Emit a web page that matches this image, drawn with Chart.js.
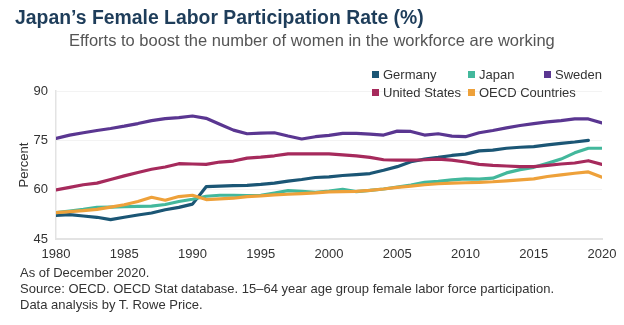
<!DOCTYPE html>
<html>
<head>
<meta charset="utf-8">
<script src="https://cdn.jsdelivr.net/npm/chart.js@4"></script>
<style>
  body { margin: 0; background: #fff; font-family: "Liberation Sans", Arial, sans-serif; }
  #wrap { position: relative; width: 624px; height: 325px; overflow: hidden; }
  #chart { position: absolute; left: 0; top: 0; }
  #title { position: absolute; left: 15px; top: 6px; font-size: 19.4px; font-weight: bold; color: #1e3d5a; white-space: nowrap; }
  #subtitle { position: absolute; left: 69px; top: 31px; font-size: 16.5px; color: #555; white-space: nowrap; }
  #legend { position: absolute; left: 372px; top: 66px; display: grid; grid-template-columns: 96px 76px auto; row-gap: 1px; font-size: 13px; color: #333; }
  #legend div { display: flex; align-items: center; height: 17px; white-space: nowrap; }
  #legend span { display: inline-block; flex-shrink: 0; width: 7px; height: 7px; margin-right: 4px; }
  #notes { position: absolute; left: 20px; top: 265px; font-size: 13px; color: #333; line-height: 16px; }
</style>
</head>
<body>
<div id="wrap">
  <canvas id="chart" width="624" height="325"></canvas>
  <div id="title">Japan’s Female Labor Participation Rate (%)</div>
  <div id="subtitle">Efforts to boost the number of women in the workforce are working</div>
  <div id="legend"></div>
  <div id="notes">As of December 2020.<br>Source: OECD. OECD Stat database. 15–64 year age group female labor force participation.<br>Data analysis by T. Rowe Price.</div>
</div>
<script>
const years = [];
for (let y = 1980; y <= 2020; y++) years.push(y);

const germany = [52.2, 52.4, 52.0, 51.6, 50.9, 51.6, 52.3, 52.9, 53.9, 54.6,
  55.6, 60.9, 61.1, 61.2, 61.3, 61.6, 62.0, 62.6, 63.1, 63.7,
  63.9, 64.3, 64.6, 64.9, 65.9, 67.0, 68.5, 69.3, 69.8, 70.4,
  70.8, 71.8, 72.0, 72.6, 72.9, 73.1, 73.6, 74.1, 74.5, 75.0, null];
const japan = [53.0, 53.5, 54.0, 54.6, 54.7, 54.8, 54.9, 55.0, 55.5, 56.4,
  57.1, 58.0, 58.3, 58.3, 58.2, 58.3, 59.0, 59.7, 59.5, 59.2,
  59.6, 60.1, 59.4, 59.8, 60.2, 60.8, 61.4, 62.2, 62.5, 63.0,
  63.3, 63.2, 63.5, 65.1, 66.1, 66.8, 68.0, 69.3, 71.2, 72.6, 72.6];
const sweden = [75.6, 76.6, 77.3, 78.0, 78.6, 79.3, 80.1, 81.0, 81.6, 81.9,
  82.4, 81.7, 79.9, 78.1, 77.0, 77.2, 77.3, 76.3, 75.4, 76.1,
  76.5, 77.1, 77.1, 76.9, 76.6, 77.8, 77.7, 76.6, 77.0, 76.3,
  76.1, 77.3, 78.0, 78.8, 79.5, 80.1, 80.6, 81.0, 81.5, 81.5, 80.3];
const unitedStates = [59.9, 60.7, 61.5, 62.0, 63.1, 64.2, 65.2, 66.2, 66.9, 67.9,
  67.8, 67.7, 68.4, 68.7, 69.6, 69.9, 70.3, 70.9, 70.9, 70.9,
  70.9, 70.6, 70.3, 69.8, 69.1, 69.0, 69.0, 69.1, 69.3, 69.0,
  68.4, 67.7, 67.4, 67.2, 67.0, 67.0, 67.4, 67.8, 68.1, 68.8, 67.7];
const oecd = [53.0, 53.3, 53.6, 54.0, 54.7, 55.4, 56.4, 57.7, 56.8, 57.9,
  58.3, 57.0, 57.2, 57.4, 57.9, 58.1, 58.4, 58.6, 58.8, 59.0,
  59.3, 59.4, 59.5, 59.8, 60.2, 60.7, 61.1, 61.5, 61.8, 62.0,
  62.1, 62.2, 62.4, 62.7, 63.0, 63.3, 64.0, 64.5, 65.0, 65.4, 63.8];

const seriesNames = ["Germany", "Japan", "Sweden", "United States", "OECD Countries"];
const seriesColors = ["#1b5675", "#43b89c", "#5a3691", "#a62a5c", "#eea13a"];
const seriesData = [germany, japan, sweden, unitedStates, oecd];
// draw order: back to front
const drawOrder = [4, 3, 2, 1, 0];

const legend = document.getElementById("legend");
seriesNames.forEach((name, i) => {
  const item = document.createElement("div");
  item.innerHTML = `<span style="background:${seriesColors[i]}"></span>${name}`;
  legend.appendChild(item);
});

const datasets = drawOrder.map((i) => ({
  label: seriesNames[i],
  data: years.map((yr, k) => ({ x: yr, y: seriesData[i][k] })),
  borderColor: seriesColors[i],
  backgroundColor: seriesColors[i],
  borderWidth: 3.2,
  pointRadius: 0,
  tension: 0,
  spanGaps: false,
  borderJoinStyle: "round",
  borderCapStyle: "round",
}));

const ctx = document.getElementById("chart").getContext("2d");
new Chart(ctx, {
  type: "line",
  data: { datasets: datasets },
  options: {
    responsive: false,
    animation: false,
    devicePixelRatio: 1,
    layout: { padding: { top: 91, right: 22, bottom: 56, left: 0 } },
    plugins: { legend: { display: false }, tooltip: { enabled: false } },
    scales: {
      x: {
        type: "linear",
        min: 1980,
        max: 2020,
        afterFit: (scale) => { scale.height = 30; },
        ticks: {
          stepSize: 5,
          padding: 0,
          color: "#333",
          font: { family: "Liberation Sans", size: 13 },
          callback: (v) => String(v),
        },
        grid: { display: false },
        border: { color: "#e3e3e3", width: 2 },
      },
      y: {
        min: 45,
        max: 90,
        afterFit: (scale) => { scale.width = 56; },
        ticks: {
          stepSize: 15,
          padding: 8,
          color: "#333",
          font: { family: "Liberation Sans", size: 13 },
        },
        grid: { color: "#f3f3f3", drawTicks: false },
        border: { color: "#e3e3e3", width: 1.5 },
        title: {
          display: true,
          text: "Percent",
          color: "#333",
          padding: { top: 17, bottom: 0 },
          font: { family: "Liberation Sans", size: 13 },
        },
      },
    },
  },
});
</script>
</body>
</html>
